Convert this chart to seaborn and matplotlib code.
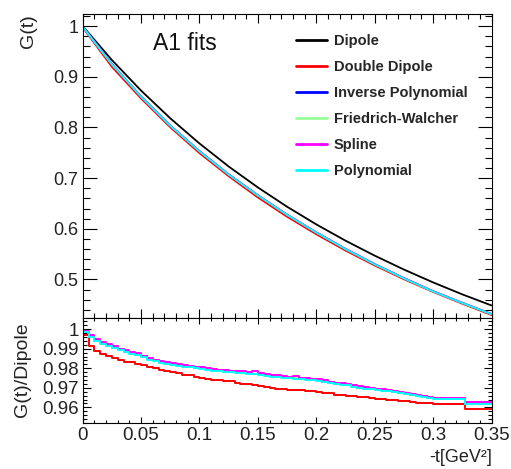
import matplotlib
matplotlib.use("Agg")
import matplotlib.pyplot as plt
import pandas as pd
import seaborn as sns
from matplotlib.ticker import MultipleLocator

# ---------------- data ----------------
fit_names = ["Dipole", "Double Dipole", "Inverse Polynomial",
             "Friedrich-Walcher", "Spline", "Polynomial"]
fit_colors = ["#000000", "#ff0000", "#0000ff", "#99ff99", "#ff00ff", "#00ffff"]

# G(t) of each fit, sampled in -t [GeV^2]
t_grid = [0.0, 0.025, 0.05, 0.075, 0.1, 0.125, 0.15, 0.175,
          0.2, 0.225, 0.25, 0.275, 0.3, 0.325, 0.35]
g_dipole = [1.0000, 0.9331, 0.8728, 0.8181, 0.7684, 0.7230, 0.6816, 0.6436,
            0.6087, 0.5766, 0.5470, 0.5196, 0.4942, 0.4706, 0.4487]
g_double_dipole = [0.9975, 0.9197, 0.8571, 0.8003, 0.7493, 0.7038, 0.6618, 0.6238,
                   0.5892, 0.5571, 0.5276, 0.5005, 0.4754, 0.4522, 0.4298]
g_inv_poly = [0.9988, 0.9249, 0.8610, 0.8036, 0.7532, 0.7073, 0.6661, 0.6278,
              0.5929, 0.5603, 0.5302, 0.5026, 0.4768, 0.4539, 0.4317]
g_fw = [0.9988, 0.9248, 0.8609, 0.8035, 0.7531, 0.7072, 0.6660, 0.6277,
        0.5928, 0.5602, 0.5301, 0.5025, 0.4767, 0.4538, 0.4316]
g_spline = [0.9990, 0.9253, 0.8614, 0.8040, 0.7535, 0.7076, 0.6664, 0.6281,
            0.5932, 0.5606, 0.5305, 0.5029, 0.4771, 0.4541, 0.4319]
g_poly = [0.9985, 0.9245, 0.8606, 0.8032, 0.7528, 0.7069, 0.6657, 0.6274,
          0.5925, 0.5599, 0.5298, 0.5022, 0.4764, 0.4536, 0.4314]

# ratio G(t)/Dipole in bins of -t
bin_edges = [0.000, 0.005, 0.010, 0.015, 0.020, 0.025, 0.030, 0.035, 0.040, 0.045,
             0.050, 0.055, 0.060, 0.065, 0.070, 0.075, 0.080, 0.085, 0.090, 0.095,
             0.100, 0.105, 0.110, 0.115, 0.120, 0.125, 0.130, 0.135, 0.140, 0.145,
             0.150, 0.155, 0.160, 0.165, 0.170, 0.175, 0.180, 0.185, 0.190, 0.195,
             0.200, 0.205, 0.210, 0.215, 0.220, 0.225, 0.230, 0.235, 0.240, 0.245,
             0.250, 0.255, 0.260, 0.265, 0.270, 0.275, 0.280, 0.285, 0.290, 0.295,
             0.300, 0.327, 0.350]
r_double_dipole = [
    0.9973, 0.9915, 0.9891, 0.9872, 0.9862, 0.9851, 0.9843, 0.9834, 0.9830, 0.9823,
    0.9817, 0.9807, 0.9801, 0.9792, 0.9788, 0.9779, 0.9775, 0.9767, 0.9764, 0.9755,
    0.9751, 0.9744, 0.9739, 0.9740, 0.9735, 0.9734, 0.9726, 0.9722, 0.9720, 0.9712,
    0.9709, 0.9703, 0.9701, 0.9695, 0.9694, 0.9690, 0.9691, 0.9688, 0.9685, 0.9682,
    0.9680, 0.9676, 0.9673, 0.9665, 0.9663, 0.9659, 0.9656, 0.9652, 0.9651, 0.9646,
    0.9644, 0.9642, 0.9639, 0.9637, 0.9635, 0.9632, 0.9629, 0.9624, 0.9623, 0.9620,
    0.9618, 0.9593]
r_inv_poly = [
    0.9987, 0.9963, 0.9946, 0.9931, 0.9919, 0.9906, 0.9897, 0.9887, 0.9880, 0.9870,
    0.9861, 0.9849, 0.9841, 0.9831, 0.9827, 0.9820, 0.9817, 0.9811, 0.9809, 0.9803,
    0.9801, 0.9794, 0.9791, 0.9786, 0.9785, 0.9781, 0.9780, 0.9777, 0.9776, 0.9772,
    0.9771, 0.9765, 0.9761, 0.9756, 0.9756, 0.9751, 0.9750, 0.9746, 0.9746, 0.9741,
    0.9739, 0.9732, 0.9728, 0.9721, 0.9719, 0.9714, 0.9709, 0.9701, 0.9699, 0.9694,
    0.9692, 0.9688, 0.9685, 0.9679, 0.9676, 0.9669, 0.9665, 0.9659, 0.9656, 0.9650,
    0.9647, 0.9624]
r_fw = [
    0.9986, 0.9962, 0.9945, 0.9930, 0.9917, 0.9906, 0.9896, 0.9887, 0.9879, 0.9870,
    0.9860, 0.9849, 0.9840, 0.9832, 0.9826, 0.9821, 0.9816, 0.9812, 0.9808, 0.9804,
    0.9800, 0.9795, 0.9790, 0.9787, 0.9784, 0.9782, 0.9779, 0.9777, 0.9775, 0.9773,
    0.9770, 0.9765, 0.9760, 0.9757, 0.9754, 0.9752, 0.9749, 0.9746, 0.9744, 0.9742,
    0.9738, 0.9733, 0.9727, 0.9722, 0.9718, 0.9714, 0.9708, 0.9702, 0.9698, 0.9694,
    0.9690, 0.9688, 0.9684, 0.9679, 0.9675, 0.9669, 0.9664, 0.9660, 0.9655, 0.9650,
    0.9647, 0.9619]
r_spline = [
    0.9990, 0.9968, 0.9951, 0.9937, 0.9923, 0.9912, 0.9901, 0.9893, 0.9884, 0.9876,
    0.9865, 0.9855, 0.9845, 0.9837, 0.9831, 0.9826, 0.9821, 0.9817, 0.9813, 0.9809,
    0.9805, 0.9800, 0.9796, 0.9792, 0.9789, 0.9787, 0.9784, 0.9788, 0.9780, 0.9784,
    0.9776, 0.9771, 0.9765, 0.9766, 0.9760, 0.9757, 0.9759, 0.9752, 0.9750, 0.9747,
    0.9743, 0.9738, 0.9732, 0.9727, 0.9723, 0.9720, 0.9713, 0.9707, 0.9703, 0.9700,
    0.9696, 0.9693, 0.9689, 0.9685, 0.9680, 0.9675, 0.9669, 0.9665, 0.9660, 0.9655,
    0.9650, 0.9626]
r_poly = [
    0.9984, 0.9959, 0.9941, 0.9926, 0.9913, 0.9902, 0.9892, 0.9883, 0.9875, 0.9866,
    0.9856, 0.9845, 0.9836, 0.9828, 0.9822, 0.9817, 0.9813, 0.9808, 0.9805, 0.9801,
    0.9797, 0.9791, 0.9787, 0.9784, 0.9781, 0.9779, 0.9776, 0.9774, 0.9772, 0.9769,
    0.9767, 0.9762, 0.9757, 0.9754, 0.9752, 0.9748, 0.9746, 0.9743, 0.9742, 0.9739,
    0.9735, 0.9730, 0.9724, 0.9719, 0.9716, 0.9712, 0.9706, 0.9699, 0.9696, 0.9692,
    0.9689, 0.9686, 0.9682, 0.9677, 0.9673, 0.9667, 0.9662, 0.9658, 0.9653, 0.9648,
    0.9645, 0.9615]

x_ticks = [0, 0.05, 0.1, 0.15, 0.2, 0.25, 0.3, 0.35]
x_tick_labels = ["0", "0.05", "0.1", "0.15", "0.2", "0.25", "0.3", "0.35"]
top_y_ticks = [0.5, 0.6, 0.7, 0.8, 0.9, 1.0]
top_y_labels = ["0.5", "0.6", "0.7", "0.8", "0.9", "1"]
bot_y_ticks = [0.96, 0.97, 0.98, 0.99, 1.0]
bot_y_labels = ["0.96", "0.97", "0.98", "0.99", "1"]

# ---------------- tables ----------------
curve_series = [g_dipole, g_double_dipole, g_inv_poly, g_fw, g_spline, g_poly]
curves = pd.concat(
    [pd.DataFrame({"t": t_grid, "G": vals, "fit": name})
     for name, vals in zip(fit_names, curve_series)],
    ignore_index=True)

ratio_series = [r_double_dipole, r_inv_poly, r_fw, r_spline, r_poly]
ratios = pd.concat(
    [pd.DataFrame({"t": bin_edges, "R": vals + [vals[-1]], "fit": name})
     for name, vals in zip(fit_names[1:], ratio_series)],
    ignore_index=True)

# ---------------- style ----------------
sns.set_theme(style="ticks")
plt.rcParams["font.family"] = ["Liberation Sans", "DejaVu Sans"]
plt.rcParams["axes.edgecolor"] = "black"
plt.rcParams["axes.linewidth"] = 0.8
plt.rcParams["xtick.color"] = "black"
plt.rcParams["ytick.color"] = "black"

fig = plt.figure(figsize=(5.11, 4.69), dpi=100)
fig.patch.set_facecolor("white")
ax_top = fig.add_axes([0.1618, 0.3209, 0.8001, 0.6493])
ax_bot = fig.add_axes([0.1618, 0.0981, 0.8001, 0.2228])

palette = dict(zip(fit_names, fit_colors))

# upper pad: fitted form factors
sns.lineplot(data=curves, x="t", y="G", hue="fit", hue_order=fit_names,
             palette=palette, estimator=None, sort=False, linewidth=1.3,
             ax=ax_top, legend=False)

# lower pad: ratio to the dipole
sns.lineplot(data=ratios, x="t", y="R", hue="fit", hue_order=fit_names[1:],
             palette=palette, estimator=None, sort=False, linewidth=1.4,
             drawstyle="steps-post", ax=ax_bot, legend=False)

for ax in (ax_top, ax_bot):
    ax.set_xlim(0, 0.35)
    ax.set_xticks(x_ticks)
    ax.xaxis.set_minor_locator(MultipleLocator(0.01))
    ax.set_xlabel("")
    ax.set_ylabel("")
    ax.tick_params(which="both", direction="in", top=True, right=True,
                   width=0.8, colors="black", labelcolor="#222222")
    for s in ax.spines.values():
        s.set_visible(True)
        s.set_color("black")
        s.set_linewidth(0.8)

ax_top.set_ylim(0.423, 1.024)
ax_top.set_yticks(top_y_ticks, top_y_labels, fontsize=13)
ax_top.yaxis.set_minor_locator(MultipleLocator(0.02))
ax_top.set_xticklabels([])
ax_top.tick_params(axis="y", which="major", length=10, pad=3)
ax_top.tick_params(axis="y", which="minor", length=5)
ax_top.tick_params(axis="x", which="major", length=6.5)
ax_top.tick_params(axis="x", which="minor", length=3.5)

ax_bot.set_ylim(0.952, 1.0055)
ax_bot.set_yticks(bot_y_ticks, bot_y_labels, fontsize=13.5)
ax_bot.yaxis.set_minor_locator(MultipleLocator(0.002))
ax_bot.set_xticklabels(x_tick_labels, fontsize=13.5)
ax_bot.tick_params(axis="y", which="major", length=6, pad=3)
ax_bot.tick_params(axis="y", which="minor", length=3)
ax_bot.tick_params(axis="x", which="major", length=4.5, pad=3)
ax_bot.tick_params(axis="x", which="minor", length=2.5)

# legend
handles = [plt.Line2D([], [], color=c, linewidth=2) for c in fit_colors]
ax_top.legend(handles, fit_names, loc="upper left",
              bbox_to_anchor=(296 / 511, 1 - 34 / 469),
              bbox_transform=fig.transFigure, frameon=False,
              borderpad=0, borderaxespad=0, handlelength=2.1,
              handletextpad=0.5, labelspacing=0.82,
              prop={"weight": "bold", "size": 10.5})

# annotations and axis titles
fig.text(153 / 511, 1 - 50 / 469, "A1 fits", fontsize=16.5,
         ha="left", va="baseline", color="#111111")
fig.text(28 / 511, 1 - 14 / 469, "G(t)", rotation=90, fontsize=14,
         ha="center", va="top", color="#222222")
fig.text(23 / 511, 1 - 370 / 469, "G(t)/Dipole", rotation=90, fontsize=14,
         ha="center", va="center", color="#222222")
fig.text(492 / 511, 1 - 457 / 469, "-t[GeV²]", fontsize=13,
         ha="right", va="center", color="#222222")

fig.savefig("out.png", dpi=100, facecolor="white")
